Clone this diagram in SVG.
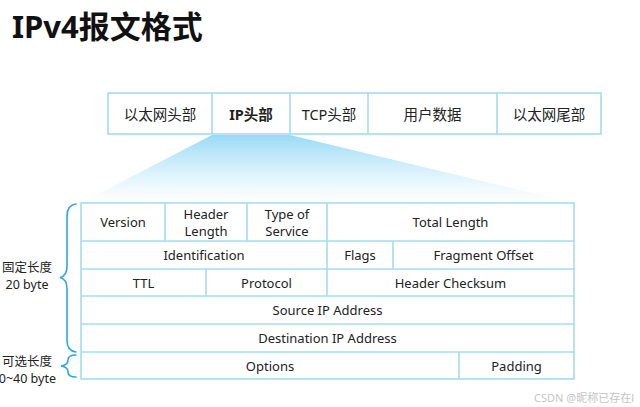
<svg xmlns="http://www.w3.org/2000/svg" width="640" height="407" viewBox="0 0 640 407">
<defs>
<linearGradient id="fan" x1="0" y1="0" x2="0" y2="1">
<stop offset="0" stop-color="#98daf6"/>
<stop offset="1" stop-color="#ffffff" stop-opacity="0.6"/>
</linearGradient>
<style>
.t{font-family:"Noto Sans","Noto Sans CJK SC",sans-serif;fill:#222;font-size:13px;text-anchor:middle;dominant-baseline:central}
.b{font-size:14.5px}
.s{font-size:12.5px}
.cell{fill:#fff;stroke:#a4dcf2;stroke-width:1.6}
.ln{stroke:#a4dcf2;stroke-width:1.6;fill:none}
.brace{fill:none;stroke:#29a8e2;stroke-width:1.6;stroke-linecap:round}
</style>
</defs>
<rect width="640" height="407" fill="#fff"/>
<text x="12" y="38" style="font-family:'Noto Sans','Noto Sans CJK SC',sans-serif;font-weight:bold;font-size:31px;fill:#111">IPv4报文格式</text>

<polygon points="212,135 290,135 574,203 81,203" fill="url(#fan)"/>

<g id="frame">
<rect id="top-bar" class="cell" x="108" y="93" width="493" height="41"/>
<g class="ln">
<line x1="212" y1="93" x2="212" y2="134"/>
<line x1="290" y1="93" x2="290" y2="134"/>
<line x1="368" y1="93" x2="368" y2="134"/>
<line x1="497" y1="93" x2="497" y2="134"/>
</g>
</g>
<g id="n-eth-head"><text class="t b" x="160" y="114">以太网头部</text></g>
<g id="n-ip-head"><text class="t b" x="251" y="114" font-weight="bold">IP头部</text></g>
<g id="n-tcp-head"><text class="t b" x="329" y="114">TCP头部</text></g>
<g id="n-data"><text class="t b" x="432.5" y="114">用户数据</text></g>
<g id="n-eth-tail"><text class="t b" x="549" y="114">以太网尾部</text></g>

<g id="table">
<rect class="cell" x="81" y="203" width="493" height="176"/>
<g class="ln">
<line x1="81" y1="241" x2="574" y2="241"/>
<line x1="81" y1="269" x2="574" y2="269"/>
<line x1="81" y1="296" x2="574" y2="296"/>
<line x1="81" y1="324" x2="574" y2="324"/>
<line x1="81" y1="352" x2="574" y2="352"/>
<line x1="165" y1="203" x2="165" y2="241"/>
<line x1="247" y1="203" x2="247" y2="241"/>
<line x1="327" y1="203" x2="327" y2="296"/>
<line x1="393" y1="241" x2="393" y2="269"/>
<line x1="206" y1="269" x2="206" y2="296"/>
<line x1="459" y1="352" x2="459" y2="379"/>
</g>
</g>
<g id="f-version"><text class="t" x="123" y="222">Version</text></g>
<g id="f-hlen"><text class="t" x="206" y="213.5">Header</text><text class="t" x="206" y="230.5">Length</text></g>
<g id="f-tos"><text class="t" x="287" y="213.5">Type of</text><text class="t" x="287" y="230.5">Service</text></g>
<g id="f-total"><text class="t" x="450.5" y="222">Total Length</text></g>
<g id="f-id"><text class="t" x="204" y="255">Identification</text></g>
<g id="f-flags"><text class="t" x="360" y="255">Flags</text></g>
<g id="f-frag"><text class="t" x="483.5" y="255">Fragment Offset</text></g>
<g id="f-ttl"><text class="t" x="143.5" y="282.5">TTL</text></g>
<g id="f-proto"><text class="t" x="266.5" y="282.5">Protocol</text></g>
<g id="f-cksum"><text class="t" x="450.5" y="282.5">Header Checksum</text></g>
<g id="f-src"><text class="t" x="327.5" y="310">Source IP Address</text></g>
<g id="f-dst"><text class="t" x="327.5" y="338">Destination IP Address</text></g>
<g id="f-opt"><text class="t" x="270" y="365.5">Options</text></g>
<g id="f-pad"><text class="t" x="516.5" y="365.5">Padding</text></g>

<g id="connectors">
<path class="brace" d="M76,204 Q67,205 67,216 L67,266 Q67,276 60,277.5 Q67,279 67,289 L67,340 Q67,351 76,352"/>
<path class="brace" d="M76,355 Q68,355 68,360 Q68,365 61,366 Q68,367 68,372 Q68,377 76,377"/>
</g>
<g id="l-fixed"><text class="t s" x="27" y="267.5">固定长度</text><text class="t s" x="27" y="284.5">20 byte</text></g>
<g id="l-opt"><text class="t s" x="27" y="361">可选长度</text><text class="t s" x="56" y="378.5" style="text-anchor:end">0~40 byte</text></g>
<text x="634" y="397" style="font-family:'Noto Sans','Noto Sans CJK SC',sans-serif;font-size:11px;fill:#c4c4c4;text-anchor:end;dominant-baseline:central">CSDN @昵称已存在l</text>
</svg>
